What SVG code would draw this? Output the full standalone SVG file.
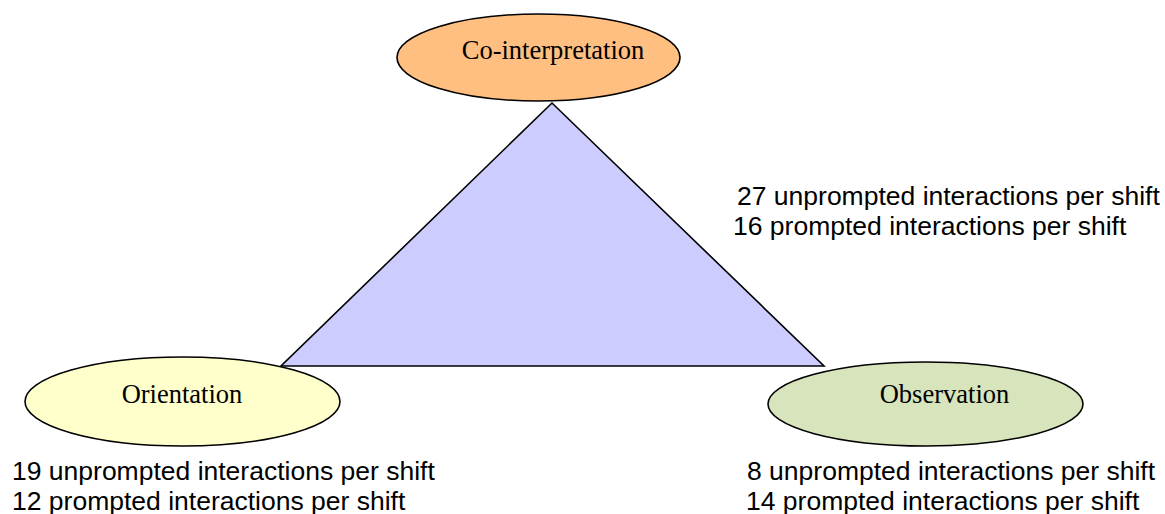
<svg xmlns="http://www.w3.org/2000/svg" width="1165" height="514" viewBox="0 0 1165 514">
<style>
.node{stroke:#000;stroke-width:1.6}
.nl{font-family:"Liberation Serif","Times New Roman",serif;font-size:26.5px;fill:#000;text-anchor:middle}
.lbl{font-family:"Liberation Sans",Arial,sans-serif;font-size:26.5px;fill:#000}
</style>
<rect width="1165" height="514" fill="#fff"/>
<g id="connectors">
<polygon points="552,103 281,366 824,366" fill="#CCCCFF" stroke="#000" stroke-width="1.6"/>
</g>
<g id="co-interpretation">
<ellipse class="node" cx="538.5" cy="57.5" rx="141.5" ry="43.5" fill="#FFBF80"/>
<text class="nl" x="553" y="59">Co-interpretation</text>
</g>
<g id="orientation">
<ellipse class="node" cx="182.5" cy="401.5" rx="157.5" ry="44.5" fill="#FFFFCC"/>
<text class="nl" x="182" y="403">Orientation</text>
</g>
<g id="observation">
<ellipse class="node" cx="925.5" cy="404" rx="157.5" ry="42" fill="#D7E4BC"/>
<text class="nl" x="944.5" y="403">Observation</text>
</g>
<g id="labels">
<text class="lbl" x="737" y="205">27 unprompted interactions per shift</text>
<text class="lbl" x="733" y="235">16 prompted interactions per shift</text>
<text class="lbl" x="12" y="480">19 unprompted interactions per shift</text>
<text class="lbl" x="12" y="510">12 prompted interactions per shift</text>
<text class="lbl" x="747" y="480">8 unprompted interactions per shift</text>
<text class="lbl" x="746" y="510">14 prompted interactions per shift</text>
</g>
</svg>
